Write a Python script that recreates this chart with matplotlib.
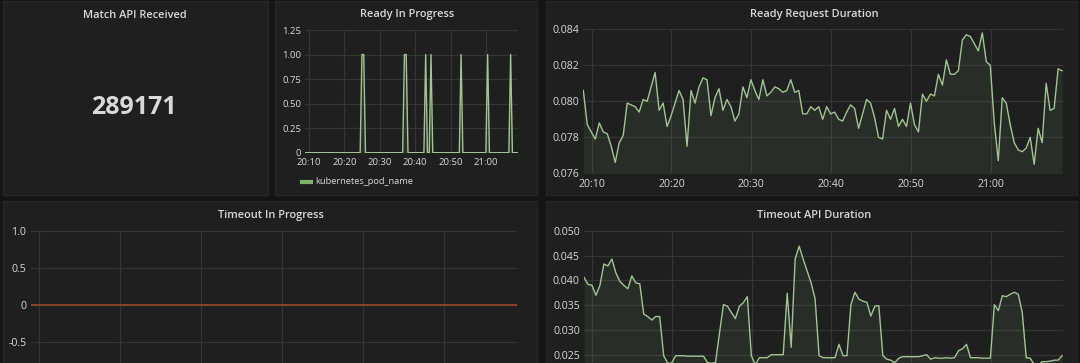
import matplotlib
matplotlib.use("Agg")
import matplotlib.pyplot as plt
import numpy as np
from matplotlib.patches import Rectangle
from matplotlib.lines import Line2D

# ---------------- data ----------------
T0_MIN = 8.95      # first sample, minutes after 20:00
STEP_MIN = 0.5     # 30 s resolution

tick_minutes = [10, 20, 30, 40, 50, 60]
tick_labels = ["20:10", "20:20", "20:30", "20:40", "20:50", "21:00"]

match_api_received = "289171"

# Ready In Progress: samples (minutes after 20:00) where value was 1, else 0
ready_on_minutes = [24.95, 25.45, 36.95, 37.45, 42.95, 44.45, 52.95, 60.45, 66.95]

ready_request_duration = [
    0.0806, 0.0787, 0.0783, 0.0779, 0.0788, 0.0783, 0.0782, 0.0775, 0.0766, 0.0777,
    0.0781, 0.0799, 0.0798, 0.0797, 0.0794, 0.0801, 0.0800, 0.0808, 0.0816, 0.0795,
    0.0799, 0.0786, 0.0792, 0.0799, 0.0806, 0.0801, 0.0775, 0.0806, 0.0799, 0.0808,
    0.0813, 0.0812, 0.0792, 0.0802, 0.0807, 0.0795, 0.0801, 0.0797, 0.0789, 0.0793,
    0.0808, 0.0802, 0.0812, 0.0806, 0.0801, 0.0812, 0.0803, 0.0805, 0.0808, 0.0807,
    0.0805, 0.0806, 0.0812, 0.0805, 0.0806, 0.0793, 0.0793, 0.0797, 0.0795, 0.0797,
    0.0790, 0.0797, 0.0793, 0.0794, 0.0790, 0.0789, 0.0794, 0.0798, 0.0796, 0.0785,
    0.0793, 0.0801, 0.0799, 0.0791, 0.0780, 0.0779, 0.0795, 0.0790, 0.0796, 0.0786,
    0.0790, 0.0786, 0.0799, 0.0787, 0.0783, 0.0804, 0.0800, 0.0804, 0.0803, 0.0815,
    0.0809, 0.0823, 0.0815, 0.0815, 0.0817, 0.0834, 0.0837, 0.0836, 0.0832, 0.0828,
    0.0838, 0.0822, 0.0820, 0.0788, 0.0767, 0.0802, 0.0799, 0.0787, 0.0777, 0.0773,
    0.0772, 0.0774, 0.0780, 0.0765, 0.0785, 0.0777, 0.0810, 0.0795, 0.0796, 0.0818,
    0.0817,
]

timeout_in_progress_value = 0.0

timeout_api_duration = [
    0.0406, 0.0392, 0.0390, 0.0370, 0.0390, 0.0433, 0.0429, 0.0443, 0.0415, 0.0398,
    0.0390, 0.0383, 0.0409, 0.0395, 0.0393, 0.0332, 0.0327, 0.0320, 0.0327, 0.0327,
    0.0248, 0.0233, 0.0233, 0.0248, 0.0248, 0.0248, 0.0247, 0.0247, 0.0247, 0.0247,
    0.0247, 0.0234, 0.0233, 0.0234, 0.0293, 0.0351, 0.0348, 0.0335, 0.0323, 0.0348,
    0.0355, 0.0367, 0.0248, 0.0230, 0.0244, 0.0244, 0.0244, 0.0250, 0.0250, 0.0250,
    0.0250, 0.0374, 0.0265, 0.0443, 0.0469, 0.0443, 0.0419, 0.0395, 0.0363, 0.0248,
    0.0244, 0.0244, 0.0244, 0.0244, 0.0271, 0.0248, 0.0248, 0.0351, 0.0376, 0.0362,
    0.0358, 0.0356, 0.0328, 0.0348, 0.0349, 0.0248, 0.0241, 0.0239, 0.0234, 0.0243,
    0.0246, 0.0246, 0.0246, 0.0246, 0.0246, 0.0248, 0.0250, 0.0241, 0.0244, 0.0243,
    0.0243, 0.0244, 0.0243, 0.0244, 0.0258, 0.0262, 0.0271, 0.0244, 0.0244, 0.0244,
    0.0243, 0.0243, 0.0243, 0.0351, 0.0339, 0.0369, 0.0367, 0.0372, 0.0376, 0.0372,
    0.0335, 0.0244, 0.0243, 0.0230, 0.0229, 0.0236, 0.0236, 0.0237, 0.0239, 0.0239,
    0.0248,
]

# ---------------- style ----------------
PAGE = "#141414"
PANEL = "#1f1f20"
BORDER = "#262626"
GRID = "#353535"
TXT = "#d8d9da"
GREEN = "#7eb26d"
LINE = "#a2c494"
ORANGE = "#8e4529"
FONT = ["Open Sans", "DejaVu Sans"]

plt.rcParams["font.family"] = FONT

W, H = 1080, 363
fig = plt.figure(figsize=(W / 100, H / 100), dpi=100, facecolor=PAGE)


def fy(y):
    return 1 - y / H


def panel(x0, y0, x1, y1):
    fig.add_artist(Rectangle((x0 / W, 1 - y1 / H), (x1 - x0) / W, (y1 - y0) / H,
                             transform=fig.transFigure, facecolor=PANEL,
                             edgecolor=BORDER, lw=1, zorder=-5))


def add_ax(x0, y0, x1, y1):
    return fig.add_axes([x0 / W, 1 - y1 / H, (x1 - x0) / W, (y1 - y0) / H])


def title(xc, yc, s):
    fig.text(xc / W, fy(yc), s, ha="center", va="center", fontsize=7.9,
             weight="semibold", color=TXT)


def style(ax, ylim, yticks, ylabels, size=7.6, xlabels=True, xlim=(T0_MIN, 69.0)):
    ax.set_facecolor("none")
    for s in ax.spines.values():
        s.set_visible(False)
    ax.set_xlim(xlim)
    ax.set_ylim(ylim)
    ax.set_xticks(tick_minutes)
    ax.set_xticklabels(tick_labels if xlabels else [""] * len(tick_minutes))
    ax.set_yticks(yticks)
    ax.set_yticklabels(ylabels)
    ax.tick_params(length=0, colors=TXT, labelsize=size, pad=3)
    ax.tick_params(axis="x", pad=4)
    ax.grid(True, color=GRID, lw=0.9)
    ax.set_axisbelow(True)


times = T0_MIN + STEP_MIN * np.arange(len(ready_request_duration))

# panels
panel(3, 1, 268, 195)
panel(275, 1, 537, 195)
panel(546, 1, 1077, 195)
panel(3, 201, 537, 420)
panel(546, 201, 1077, 420)

# ---- Match API Received (stat)
title(135, 15, "Match API Received")
fig.text(134 / W, fy(108), match_api_received, ha="center", va="center",
         fontsize=18, weight="bold", color=TXT)

# ---- Ready In Progress
title(407, 15, "Ready In Progress")
ax2 = add_ax(305.3, 30, 517.9, 152.7)
style(ax2, (0, 1.25), [0, 0.25, 0.5, 0.75, 1.0, 1.25],
      ["0", "0.25", "0.50", "0.75", "1.00", "1.25"], size=6.8)
ready_vals = np.array([1.0 if any(abs(t - m) < 0.01 for m in ready_on_minutes) else 0.0
                       for t in times])
ax2.fill_between(times, ready_vals, 0, color=GREEN, alpha=0.12, lw=0)
ax2.plot(times, ready_vals, color=LINE, lw=1.0)
fig.add_artist(Line2D([302 / W, 311 / W], [fy(182), fy(182)], color=GREEN, lw=3,
                      transform=fig.transFigure))
fig.text(315 / W, fy(182), "kubernetes_pod_name", ha="left", va="center",
         fontsize=6.7, color=TXT)

# ---- Ready Request Duration
title(814, 15, "Ready Request Duration")
ax3 = add_ax(583.3, 29.3, 1062.5, 173.3)
style(ax3, (0.076, 0.084), [0.076, 0.078, 0.080, 0.082, 0.084],
      ["0.076", "0.078", "0.080", "0.082", "0.084"])
ax3.fill_between(times, ready_request_duration, 0.076, color=GREEN, alpha=0.1, lw=0)
ax3.plot(times, ready_request_duration, color=LINE, lw=1.0)

# ---- Timeout In Progress (lower part of panel lies below the screenshot)
title(271, 215.5, "Timeout In Progress")
ax4 = add_ax(30.5, 230.8, 517, 378.8)
style(ax4, (-1.0, 1.0), [-1.0, -0.5, 0, 0.5, 1.0], ["", "-0.5", "0", "0.5", "1.0"],
      xlabels=False)
ax4.plot(times, np.full(len(times), timeout_in_progress_value), color=ORANGE, lw=1.3)

# ---- Timeout API Duration (lower part of panel lies below the screenshot)
title(814, 215.5, "Timeout API Duration")
ax5 = add_ax(584, 230.8, 1062.5, 379.5)
style(ax5, (0.020, 0.050), [0.020, 0.025, 0.030, 0.035, 0.040, 0.045, 0.050],
      ["", "0.025", "0.030", "0.035", "0.040", "0.045", "0.050"], xlabels=False)
ax5.fill_between(times, timeout_api_duration, 0.020, color=GREEN, alpha=0.1, lw=0)
ax5.plot(times, timeout_api_duration, color=LINE, lw=1.0)

fig.savefig("out.png", dpi=100, facecolor=PAGE)
